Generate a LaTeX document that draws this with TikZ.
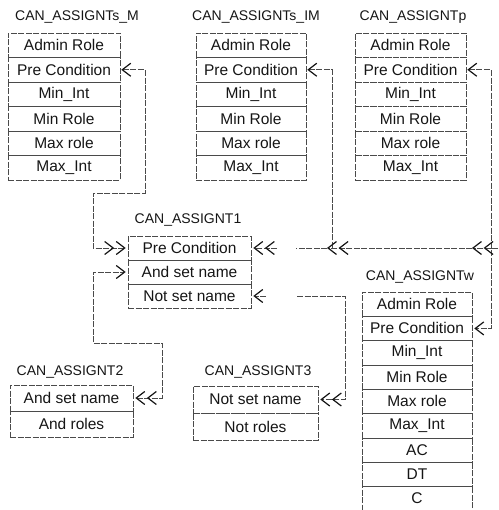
\documentclass[tikz,border=0pt]{standalone}
\usepackage{fontspec}
\setmainfont{Liberation Sans}
\usetikzlibrary{arrows.meta,positioning,calc}
\definecolor{ink}{HTML}{151515}
\definecolor{rule}{HTML}{4A4A4A}
\newcommand{\cellfont}{\fontsize{15.5}{17}\selectfont}
\newcommand{\titlefont}{\fontsize{14}{16}\selectfont}
\tikzset{
  cell/.style={draw=rule, dash pattern=on 6pt off 1.5pt, line width=0.55pt,
               inner sep=1pt, font=\cellfont, text=ink},
  tabtitle/.style={font=\titlefont, text=ink, inner sep=0pt},
  link/.style={draw=rule, dash pattern=on 6pt off 1.5pt, line width=0.55pt},
  chev/.tip={Straight Barb[length=8.5pt,width=13pt,line width=1.2pt,color=ink]},
  dchev/.tip={Straight Barb[length=8.5pt,width=13pt,line width=1.2pt,color=ink,sep=1.5pt]Straight Barb[length=8.5pt,width=13pt,line width=1.2pt,color=ink]}
}

\begin{document}
\begin{tikzpicture}[x=1pt,y=-1pt]
        \useasboundingbox (0,0) rectangle (498,510);

        % upper three tables
        \node[tabtitle] (sm-title) at (77,17) {CAN\_ASSIGNTs\_M};
        \node[tabtitle] (im-title) at (256,17) {CAN\_ASSIGNTs\_IM};
        \node[tabtitle] (p-title) at (413,17) {CAN\_ASSIGNTp};
        \foreach \lab [count=\i] in {Admin Role,Pre Condition,Min\_Int,Min Role,Max role,Max\_Int} {
          \node[cell,minimum width=112pt,minimum height=24.5pt] (sm-\i) at (64,{33+24.5*(\i-0.5)}) {\lab};
          \node[cell,minimum width=110pt,minimum height=24.5pt] (im-\i) at (251,{33+24.5*(\i-0.5)}) {\lab};
          \node[cell,minimum width=111pt,minimum height=24.5pt] (p-\i) at (410.5,{33+24.5*(\i-0.5)}) {\lab};
        }

        % CAN_ASSIGNT1
        \node[tabtitle] (t1-title) at (188,220) {CAN\_ASSIGNT1};
        \foreach \lab [count=\i] in {Pre Condition,And set name,Not set name}
          {\node[cell,minimum width=123pt,minimum height=24pt] (t1-\i) at (189.5,{236+24*(\i-0.5)}) {\lab};}

        % CAN_ASSIGNT2 and CAN_ASSIGNT3
        \node[tabtitle] (t2-title) at (70,372) {CAN\_ASSIGNT2};
        \foreach \lab [count=\i] in {And set name,And roles}
          {\node[cell,minimum width=123pt,minimum height=26pt] (t2-\i) at (71.5,{385+26*(\i-0.5)}) {\lab};}
        \node[tabtitle] (t3-title) at (258,372) {CAN\_ASSIGNT3};
        \foreach \lab [count=\i] in {Not set name,Not roles}
          {\node[cell,minimum width=125pt,minimum height=27pt] (t3-\i) at (255.5,{386+27*(\i-0.5)}) {\lab};}

        % CAN_ASSIGNTw
        \node[tabtitle] (w-title) at (420,277) {CAN\_ASSIGNTw};
        \foreach \lab [count=\i] in {Admin Role,Pre Condition,Min\_Int,Min Role,Max role,Max\_Int,AC,DT,C}
          {\node[cell,minimum width=110pt,minimum height=24.3pt] (w-\i) at (417,{292+24.3*(\i-0.5)}) {\lab};}

        % bend points
        \coordinate (sm-rail) at (145,193);
        \coordinate (left-rail) at (93,193);
        \coordinate (im-rail) at (332,248);
        \coordinate (p-rail) at (491,200);
        \coordinate (pre-end) at (498,248);
        \coordinate (pre-join) at (472,248);
        \coordinate (pre-mid) at (327,248);
        \coordinate (pre-stub) at (296,248);
        \coordinate (pre-tip) at (277,248);
        \coordinate (not-tip) at (266,296);
        \coordinate (not-stub) at (297,296);
        \coordinate (not-rail) at (345,296);
        \coordinate (and-bend) at (162,343);
        \coordinate (and-rail) at (93,343);

        % pre condition links
        \draw[link,{chev}-{dchev},shorten <=1pt,shorten >=2pt] (sm-2.east) -| (sm-rail) -- (left-rail) |- (t1-1.west);
        \draw[link,{chev}-,shorten <=1pt] (im-2.east) -| (im-rail);
        \draw[link,{chev}-{chev},shorten <=1pt,shorten >=2pt] (p-2.east) -| (p-rail) |- (w-2.east);
        \draw[link,-{dchev}] (pre-end) -- (pre-join);
        \draw[link,-{dchev}] (pre-join) -- (pre-mid);
        \draw[link] (pre-mid) -- (pre-stub);
        \draw[link,-{dchev},shorten >=2pt] (pre-tip) -- (t1-1.east);

        % set name links
        \draw[link,-{chev},shorten >=2pt] (not-tip) -- (t1-3.east);
        \draw[link,-{dchev},shorten >=2pt] (not-stub) -- (not-rail) |- (t3-1.east);
        \draw[link,{dchev}-{chev},shorten <=2pt,shorten >=2pt] (t2-1.east) -| (and-bend) -- (and-rail) |- (t1-2.west);
      \end{tikzpicture}
\end{document}
